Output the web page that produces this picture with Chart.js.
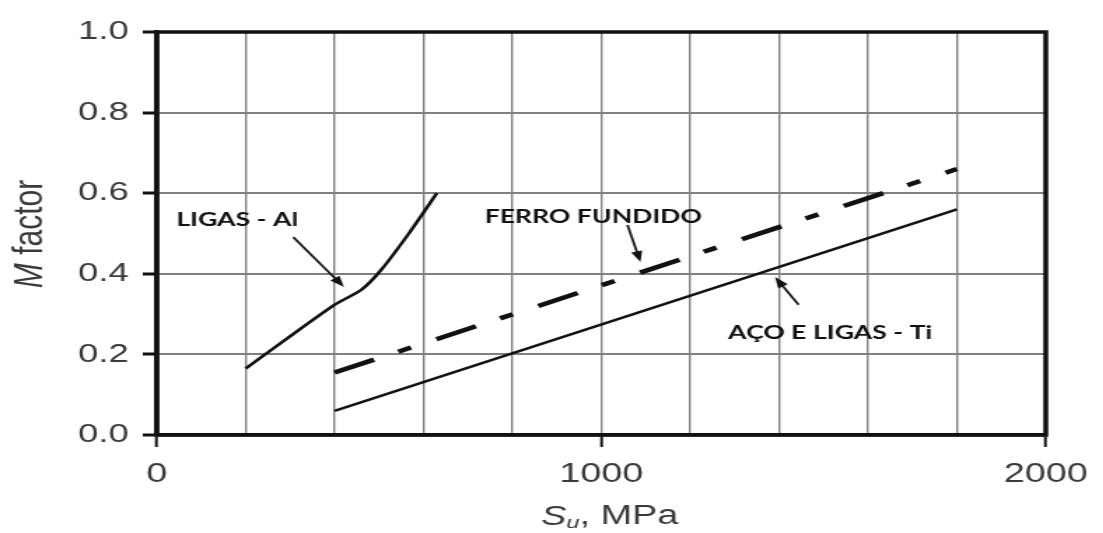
<!DOCTYPE html>
<html>
<head>
<meta charset="utf-8">
<script src="https://cdn.jsdelivr.net/npm/chart.js@4.4.0/dist/chart.umd.min.js"></script>
<style>
    html, body { margin: 0; padding: 0; background: #fff; overflow: hidden; }
    /* the original picture is stretched sideways, so the whole chart is too */
    #wrap { width: 788px; height: 533px; transform: scaleX(1.4); transform-origin: 0 0; }
</style>
</head>
<body>
<div id="wrap"><canvas id="chart" width="788" height="533"></canvas></div>
<script>
// 曲線資料 (S_u MPa, M factor)
const alX = [200, 300, 400, 460, 505, 567, 630];
const alY = [0.165, 0.245, 0.323, 0.36, 0.41, 0.50, 0.60];
const feX = [400, 1800];
const feY = [0.155, 0.66];
const acoX = [400, 1800];
const acoY = [0.06, 0.56];

// 刻度
const xLabelTicks = [0, 1000, 2000];
const yTicks = [0, 0.2, 0.4, 0.6, 0.8, 1.0];

// 標註文字與箭頭 (資料座標)
const noteText = ['LIGAS - Al', 'FERRO FUNDIDO', 'AÇO E LIGAS - Ti'];
const noteX = [181, 982, 1515];
const noteY = [0.533, 0.541, 0.253];
const arrowFromX = [307, 1059, 1444];
const arrowFromY = [0.491, 0.521, 0.323];
const arrowToX = [421, 1088, 1391];
const arrowToY = [0.367, 0.429, 0.392];

const toPoints = (xs, ys) => xs.map((v, i) => ({ x: v, y: ys[i] }));

// 畫箭頭
function drawArrow(ctx, x0, y0, x1, y1) {
    const ang = Math.atan2(y1 - y0, x1 - x0);
    const len = 11, half = 4;
    ctx.beginPath();
    ctx.moveTo(x0, y0);
    ctx.lineTo(x1 - Math.cos(ang) * len * 0.8, y1 - Math.sin(ang) * len * 0.8);
    ctx.stroke();
    ctx.beginPath();
    ctx.moveTo(x1, y1);
    ctx.lineTo(x1 - Math.cos(ang) * len + Math.sin(ang) * half, y1 - Math.sin(ang) * len - Math.cos(ang) * half);
    ctx.lineTo(x1 - Math.cos(ang) * len - Math.sin(ang) * half, y1 - Math.sin(ang) * len + Math.cos(ang) * half);
    ctx.closePath();
    ctx.fill();
}

const notesPlugin = {
    id: 'notes',
    afterDatasetsDraw(chart) {
        const { ctx, chartArea: a, scales: { x, y } } = chart;
        ctx.save();
        // 外框
        ctx.strokeStyle = '#111';
        ctx.lineWidth = 3.5;
        ctx.strokeRect(a.left, a.top, a.right - a.left, a.bottom - a.top);

        // 標註文字
        ctx.fillStyle = '#111';
        ctx.font = 'bold 19px Lato';
        ctx.textAlign = 'center';
        ctx.textBaseline = 'middle';
        noteText.forEach((t, i) => {
            ctx.fillText(t, x.getPixelForValue(noteX[i]), y.getPixelForValue(noteY[i]));
        });

        // 箭頭
        ctx.strokeStyle = '#1a1a1a';
        ctx.lineWidth = 1.8;
        arrowFromX.forEach((v, i) => {
            drawArrow(ctx,
                x.getPixelForValue(v), y.getPixelForValue(arrowFromY[i]),
                x.getPixelForValue(arrowToX[i]), y.getPixelForValue(arrowToY[i]));
        });

        // 軸標題
        ctx.fillStyle = '#3a3a3a';
        ctx.textBaseline = 'middle';
        // x: S_u, MPa
        const xt = (a.left + a.right) / 2 + 6;
        const yt = 517;
        ctx.font = 'italic 27px "Liberation Sans"';
        const wS = ctx.measureText('S').width;
        ctx.font = 'italic 17px "Liberation Sans"';
        const wU = ctx.measureText('u').width;
        ctx.font = '27px "Liberation Sans"';
        const wRest = ctx.measureText(', MPa').width;
        let cx = xt - (wS + wU + wRest) / 2;
        ctx.textAlign = 'left';
        ctx.font = 'italic 27px "Liberation Sans"';
        ctx.fillText('S', cx, yt);
        cx += wS;
        ctx.font = 'italic 17px "Liberation Sans"';
        ctx.fillText('u', cx, yt + 6);
        cx += wU;
        ctx.font = '27px "Liberation Sans"';
        ctx.fillText(', MPa', cx, yt);

        // y: M factor
        ctx.save();
        ctx.translate(22, 234);
        ctx.rotate(-Math.PI / 2);
        ctx.font = 'italic 30px "Liberation Sans"';
        const wM = ctx.measureText('M').width;
        ctx.font = '30px "Liberation Sans"';
        const wF = ctx.measureText(' factor').width;
        const ry = -(wM + wF) / 2;
        ctx.font = 'italic 30px "Liberation Sans"';
        ctx.fillText('M', ry, 0);
        ctx.font = '30px "Liberation Sans"';
        ctx.fillText(' factor', ry + wM, 0);
        ctx.restore();

        ctx.restore();
    }
};

new Chart(document.getElementById('chart'), {
    type: 'line',
    data: {
        datasets: [{
            label: 'LIGAS - Al',
            data: toPoints(alX, alY),
            borderColor: '#111',
            borderWidth: 2.6,
            pointRadius: 0,
            tension: 0.2
        }, {
            label: 'FERRO FUNDIDO',
            data: toPoints(feX, feY),
            borderColor: '#111',
            borderWidth: 4.5,
            borderDash: [31, 19, 10, 20],
            pointRadius: 0
        }, {
            label: 'AÇO E LIGAS - Ti',
            data: toPoints(acoX, acoY),
            borderColor: '#111',
            borderWidth: 2.6,
            pointRadius: 0
        }]
    },
    options: {
        responsive: false,
        animation: false,
        devicePixelRatio: 1,
        layout: { padding: { left: 0, right: 38, top: 32, bottom: 0 } },
        plugins: { legend: { display: false }, tooltip: { enabled: false } },
        scales: {
            x: {
                type: 'linear',
                min: 0,
                max: 2000,
                afterFit: s => { s.height = 98; },
                ticks: {
                    stepSize: 200,
                    autoSkip: false,
                    maxRotation: 0,
                    padding: 11,
                    color: '#3a3a3a',
                    font: { family: '"Liberation Sans"', size: 27 },
                    callback: v => xLabelTicks.includes(v) ? String(v) : ''
                },
                grid: {
                    color: '#808080',
                    lineWidth: 1.4,
                    tickLength: 12,
                    tickWidth: 2,
                    tickColor: c => xLabelTicks.includes(c.tick.value) ? '#111' : 'rgba(0,0,0,0)'
                },
                border: { display: true, color: '#111', width: 3.5 }
            },
            y: {
                type: 'linear',
                min: 0,
                max: 1,
                afterFit: s => { s.width = 112; },
                afterBuildTicks: s => { s.ticks = yTicks.map(v => ({ value: v })); },
                ticks: {
                    padding: 10,
                    color: '#3a3a3a',
                    font: { family: '"Liberation Sans"', size: 26 },
                    callback: v => v.toFixed(1)
                },
                grid: {
                    color: '#808080',
                    lineWidth: 2,
                    tickLength: 10,
                    tickWidth: 3,
                    tickColor: '#111'
                },
                border: { display: true, color: '#111', width: 3.5 }
            }
        }
    },
    plugins: [notesPlugin]
});
</script>
</body>
</html>
